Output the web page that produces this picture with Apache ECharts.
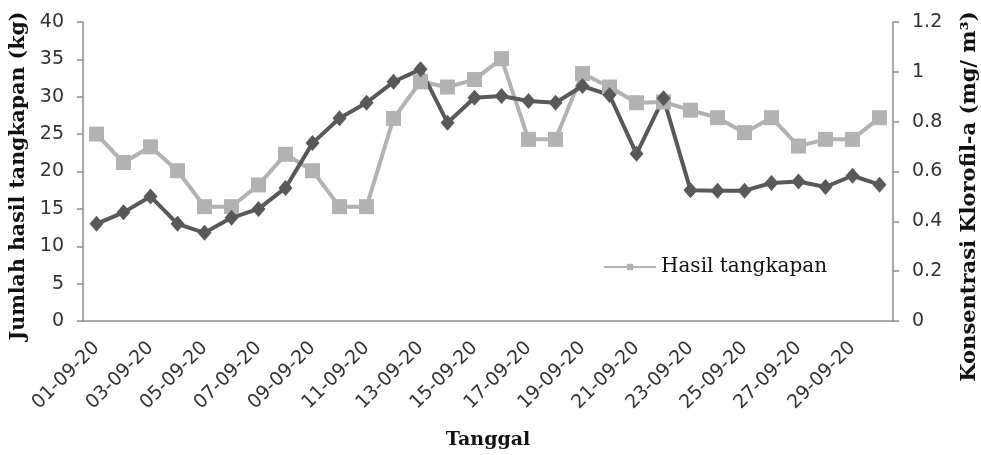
<!DOCTYPE html>
<html><head><meta charset="utf-8">
<script src="https://cdn.jsdelivr.net/npm/echarts@6/dist/echarts.min.js"></script>
<style>html,body{margin:0;padding:0;background:#fff}#c{width:981px;height:455px}</style>
</head><body><div id="c"></div>
<script>
const categories = ['01-09-20','02-09-20','03-09-20','04-09-20','05-09-20','06-09-20','07-09-20','08-09-20','09-09-20','10-09-20',
'11-09-20','12-09-20','13-09-20','14-09-20','15-09-20','16-09-20','17-09-20','18-09-20','19-09-20','20-09-20',
'21-09-20','22-09-20','23-09-20','24-09-20','25-09-20','26-09-20','27-09-20','28-09-20','29-09-20','30-09-20'];
const hasilTangkapan = [25.0,21.2,23.3,20.1,15.3,15.3,18.2,22.3,20.1,15.3,15.3,27.1,32.0,31.3,32.3,35.1,24.3,24.3,33.1,31.3,29.2,29.3,28.2,27.2,25.2,27.2,23.4,24.3,24.3,27.2];
const klorofil = [0.39,0.436,0.50,0.39,0.354,0.414,0.45,0.534,0.714,0.814,0.876,0.96,1.01,0.796,0.896,0.903,0.883,0.876,0.943,0.907,0.671,0.894,0.525,0.523,0.523,0.554,0.56,0.538,0.583,0.547];
const leftTicks = {min:0,max:40,interval:5};
const rightTicks = {min:0,max:1.2,interval:0.2};

const serif = '"DejaVu Serif", serif';
const sans = '"DejaVu Sans", sans-serif';
const axisColor = '#8c8c8c';
const chart = echarts.init(document.getElementById('c'));
chart.setOption({
  animation:false,
  textStyle:{fontFamily:sans},
  grid:{left:83,right:88,top:22,bottom:134,outerBoundsMode:'none',containLabel:false},
  legend:{data:['Hasil tangkapan'],left:598,top:252,itemWidth:52,itemHeight:8,
    textStyle:{fontFamily:serif,fontSize:20,color:'#111'}},
  xAxis:{type:'category',data:categories,boundaryGap:true,
    name:'Tanggal',nameLocation:'middle',nameGap:110,
    nameTextStyle:{fontFamily:serif,fontWeight:'bold',fontSize:19,color:'#111'},
    axisLine:{lineStyle:{color:axisColor,width:1.5}},
    axisTick:{interval:1,length:6,lineStyle:{color:axisColor,width:1.5}},
    axisLabel:{interval:1,rotate:45,fontFamily:sans,fontSize:19,color:'#333',margin:24}},
  yAxis:[
    {type:'value',min:leftTicks.min,max:leftTicks.max,interval:leftTicks.interval,
     name:'Jumlah hasil tangkapan (kg)',nameLocation:'middle',nameGap:51,
     nameTextStyle:{fontFamily:serif,fontWeight:'bold',fontSize:20.5,color:'#111',padding:[0,9,0,0]},
     axisLine:{show:true,lineStyle:{color:axisColor,width:1.5}},
     axisTick:{show:true,length:6,lineStyle:{color:axisColor,width:1.5}},
     splitLine:{show:false},
     axisLabel:{fontFamily:sans,fontSize:19,color:'#333',margin:19}},
    {type:'value',min:rightTicks.min,max:rightTicks.max,interval:rightTicks.interval,position:'right',
     name:'Konsentrasi Klorofil-a (mg/ m³)',nameLocation:'middle',nameGap:66,
     nameTextStyle:{fontFamily:serif,fontWeight:'bold',fontSize:21,color:'#111',padding:[0,50,0,0]},
     axisLine:{show:true,lineStyle:{color:axisColor,width:1.5}},
     axisTick:{show:true,length:6,lineStyle:{color:axisColor,width:1.5}},
     splitLine:{show:false},
     axisLabel:{fontFamily:sans,fontSize:19,color:'#333',margin:19}}
  ],
  series:[
    {name:'Hasil tangkapan',type:'line',yAxisIndex:0,data:hasilTangkapan,
     symbol:'rect',symbolSize:15,lineStyle:{color:'#b2b2b2',width:4},
     itemStyle:{color:'#b2b2b2'}},
    {name:'Klorofil-a',type:'line',yAxisIndex:1,data:klorofil,
     symbol:'diamond',symbolSize:[14,16],lineStyle:{color:'#595959',width:4},
     itemStyle:{color:'#595959'}}
  ]
});
</script></body></html>
